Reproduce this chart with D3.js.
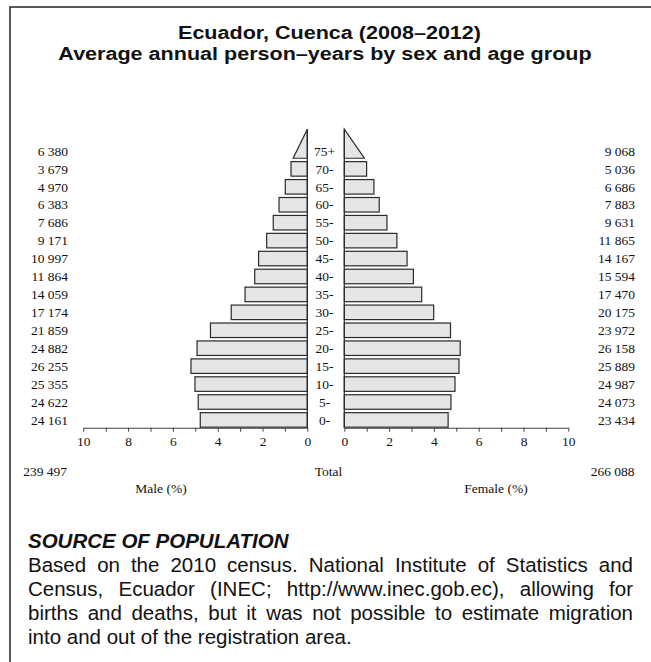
<!DOCTYPE html>
<html>
<head>
<meta charset="utf-8">
<script src="https://cdn.jsdelivr.net/npm/d3@7/dist/d3.min.js"></script>
<style>
  html, body { margin: 0; padding: 0; background: #fff; }
  svg { display: block; }
</style>
</head>
<body>
<svg id="chart" width="651" height="662"></svg>
<script>
// ---- data ----
const ageGroups = ["75+", "70-", "65-", "60-", "55-", "50-", "45-", "40-", "35-", "30-", "25-", "20-", "15-", "10-", "5-", "0-"];
const maleCounts = [6380, 3679, 4970, 6383, 7686, 9171, 10997, 11864, 14059, 17174, 21859, 24882, 26255, 25355, 24622, 24161];
const femaleCounts = [9068, 5036, 6686, 7883, 9631, 11865, 14167, 15594, 17470, 20175, 23972, 26158, 25889, 24987, 24073, 23434];
const maleTotal = 239497;
const femaleTotal = 266088;
const axisTicks = [0, 1, 2, 3, 4, 5, 6, 7, 8, 9, 10];
const titleLines = ["Ecuador, Cuenca (2008\u20132012)", "Average annual person\u2013years by sex and age group"];
const sourceHeading = "SOURCE OF POPULATION";
const sourceLines = [
  "Based on the 2010 census. National Institute of Statistics and",
  "Census, Ecuador (INEC; http://www.inec.gob.ec), allowing for",
  "births and deaths, but it was not possible to estimate migration",
  "into and out of the registration area."
];

// ---- layout ----
const svg = d3.select("#chart");
const grand = maleTotal + femaleTotal;
const pct = v => v / grand * 100;
const fmt = v => d3.format(",")(v).replace(/,/g, " ");

const serif = "'Liberation Serif', 'Times New Roman', serif";
const sans = "'Liberation Sans', Arial, Helvetica, sans-serif";
const fs = 13.5;

const xMale = d3.scaleLinear().domain([0, 10]).range([307.3, 83.3]);
const xFemale = d3.scaleLinear().domain([0, 10]).range([344.3, 568.3]);
const y = d3.scaleBand().domain(ageGroups).range([142.0, 428.9]).paddingInner(0.19).paddingOuter(0.095);
const axisY = 427.7;
const centerX = 328.5;

// frame
svg.append("path")
  .attr("d", `M10,662 L10,7 L651,7`)
  .attr("fill", "none").attr("stroke", "#222").attr("stroke-width", 1.5);

// title (slightly wide lettering, as in the reference)
const titleX = [329.5, 325];
const sx = 1.165;
svg.append("g").selectAll("text").data(titleLines).join("text")
  .attr("transform", (d, i) => `translate(${titleX[i]},${39 + i * 21}) scale(${sx},1)`)
  .attr("text-anchor", "middle")
  .attr("font-family", sans).attr("font-weight", "bold").attr("font-size", 18.5)
  .attr("fill", "#111")
  .text(d => d);

const rows = ageGroups.map((a, i) => ({ age: a, m: maleCounts[i], f: femaleCounts[i] }));
const barRows = rows.filter(r => r.age !== "75+");
const topRow = rows.find(r => r.age === "75+");

const fill = "#e5e5e5", stroke = "#2a2a2a";

// bars
svg.append("g").selectAll("rect").data(barRows).join("rect")
  .attr("x", d => xMale(pct(d.m))).attr("y", d => y(d.age))
  .attr("width", d => xMale(0) - xMale(pct(d.m))).attr("height", y.bandwidth())
  .attr("fill", fill).attr("stroke", stroke).attr("stroke-width", 1.2);
svg.append("g").selectAll("rect").data(barRows).join("rect")
  .attr("x", xFemale(0)).attr("y", d => y(d.age))
  .attr("width", d => xFemale(pct(d.f)) - xFemale(0)).attr("height", y.bandwidth())
  .attr("fill", fill).attr("stroke", stroke).attr("stroke-width", 1.2);

// open-ended group as triangle
const baseY = y("75+") + y.bandwidth();
const apexY = baseY - 2 * y.bandwidth();
svg.append("path")
  .attr("d", `M${xMale(0)},${apexY} L${xMale(0)},${baseY} L${xMale(pct(topRow.m) / 2)},${baseY} Z`)
  .attr("fill", fill).attr("stroke", stroke).attr("stroke-width", 1.2).attr("stroke-linejoin", "miter");
svg.append("path")
  .attr("d", `M${xFemale(0)},${apexY} L${xFemale(0)},${baseY} L${xFemale(pct(topRow.f) / 2)},${baseY} Z`)
  .attr("fill", fill).attr("stroke", stroke).attr("stroke-width", 1.2).attr("stroke-linejoin", "miter");

// vertical baselines
[xMale(0), xFemale(0)].forEach(x => {
  svg.append("line").attr("x1", x).attr("x2", x).attr("y1", apexY).attr("y2", axisY)
    .attr("stroke", stroke).attr("stroke-width", 1.2);
});

// axes
function styleAxis(g) {
  g.select(".domain").attr("stroke", "#444").attr("stroke-width", 1.1);
  g.selectAll(".tick line").attr("stroke", "#444").attr("stroke-width", 1);
  g.selectAll(".tick text").attr("font-family", serif).attr("font-size", fs).attr("fill", "#111");
}
svg.append("g").attr("transform", `translate(0,${axisY})`)
  .call(d3.axisBottom(xMale).tickValues(axisTicks).tickFormat(d => d % 2 === 0 ? d : "").tickSize(4).tickSizeOuter(0).tickPadding(5))
  .call(styleAxis);
svg.append("g").attr("transform", `translate(0,${axisY})`)
  .call(d3.axisBottom(xFemale).tickValues(axisTicks).tickFormat(d => d % 2 === 0 ? d : "").tickSize(4).tickSizeOuter(0).tickPadding(5))
  .call(styleAxis);

// age labels
svg.append("g").selectAll("text").data(rows).join("text")
  .attr("x", 324.5).attr("y", d => y(d.age) + y.bandwidth() / 2).attr("dy", "0.35em")
  .attr("text-anchor", "middle").attr("font-family", serif).attr("font-size", fs).attr("fill", "#111")
  .text(d => d.age);

// counts
svg.append("g").selectAll("text").data(rows).join("text")
  .attr("x", 68).attr("y", d => y(d.age) + y.bandwidth() / 2).attr("dy", "0.35em")
  .attr("text-anchor", "end").attr("font-family", serif).attr("font-size", fs).attr("fill", "#111")
  .text(d => fmt(d.m));
svg.append("g").selectAll("text").data(rows).join("text")
  .attr("x", 635).attr("y", d => y(d.age) + y.bandwidth() / 2).attr("dy", "0.35em")
  .attr("text-anchor", "end").attr("font-family", serif).attr("font-size", fs).attr("fill", "#111")
  .text(d => fmt(d.f));

// totals and axis titles
const lab = (x, yy, t, anchor) => svg.append("text").attr("x", x).attr("y", yy)
  .attr("text-anchor", anchor).attr("font-family", serif).attr("font-size", fs).attr("fill", "#111").text(t);
lab(67, 475.5, fmt(maleTotal), "end");
lab(634.5, 475.5, fmt(femaleTotal), "end");
lab(centerX, 475.5, "Total", "middle");
lab(centerX - 167.5, 492.5, "Male (%)", "middle");
lab(centerX + 167.5, 492.5, "Female (%)", "middle");

// source text
const leftX = 28, rightX = 633;
svg.append("text").attr("x", leftX).attr("y", 548)
  .attr("font-family", sans).attr("font-weight", "bold").attr("font-style", "italic").attr("font-size", 20.5)
  .attr("fill", "#111").text(sourceHeading);
sourceLines.forEach((line, i) => {
  const t = svg.append("text").attr("x", leftX).attr("y", 572 + i * 24)
    .attr("font-family", sans).attr("font-size", 20.5).attr("fill", "#111").text(line);
  if (i < sourceLines.length - 1) {
    const w = t.node().getComputedTextLength();
    const spaces = (line.match(/ /g) || []).length;
    if (spaces > 0) t.style("word-spacing", ((rightX - leftX - w) / spaces) + "px");
  }
});
</script>
</body>
</html>
